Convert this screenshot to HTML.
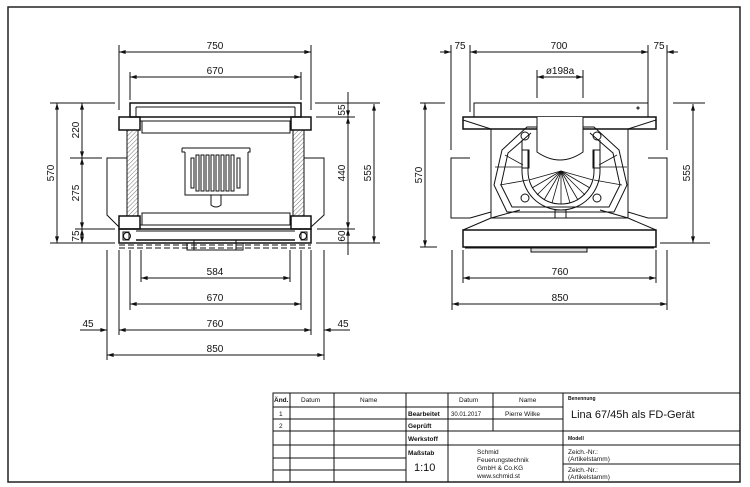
<!DOCTYPE html>
<html><head><meta charset="utf-8"><style>
html,body{margin:0;padding:0;background:#fff}
svg{display:block}
text{font-family:"Liberation Sans",sans-serif;fill:#111}
.d{font-size:10px;font-family:"DejaVu Sans Condensed","Liberation Sans",sans-serif}
</style></head><body>
<svg width="750" height="487" viewBox="0 0 750 487" xmlns="http://www.w3.org/2000/svg">
<defs>
<pattern id="h" width="3" height="3" patternUnits="userSpaceOnUse" patternTransform="rotate(45)"><line x1="0" y1="0" x2="0" y2="3" stroke="#555" stroke-width="0.8"/></pattern>
<marker id="a" viewBox="0 0 10 6" refX="10" refY="3" markerWidth="7" markerHeight="4" orient="auto-start-reverse"><path d="M0,0L10,3L0,6z" fill="#111"/></marker>
</defs>
<rect width="750" height="487" fill="#fff"/>
<!-- frame -->
<rect x="8" y="7" width="732" height="475" fill="none" stroke="#222" stroke-width="1.5"/>

<g stroke="#111" stroke-width="1" fill="none">
<!-- ===== LEFT VIEW ===== -->
<!-- dims top -->
<line x1="119" y1="45" x2="119" y2="110"/><line x1="311" y1="45" x2="311" y2="110"/>
<line x1="119" y1="52" x2="311" y2="52" marker-start="url(#a)" marker-end="url(#a)"/>
<line x1="130" y1="72" x2="130" y2="100"/><line x1="301" y1="72" x2="301" y2="100"/>
<line x1="130" y1="77" x2="301" y2="77" marker-start="url(#a)" marker-end="url(#a)"/>
<!-- top cover -->
<rect x="130" y="103" width="171" height="14" stroke-width="1.5"/>
<line x1="136" y1="107" x2="295" y2="107"/>
<line x1="136" y1="107" x2="136" y2="117"/><line x1="295" y1="107" x2="295" y2="117"/>
<!-- corner blocks -->
<rect x="119" y="117" width="21" height="13" stroke-width="1.5"/>
<rect x="291" y="117" width="20" height="13" stroke-width="1.5"/>
<rect x="140" y="117" width="151" height="4"/>
<rect x="142" y="121" width="148" height="12"/>
<!-- hatched walls -->
<rect x="127" y="130" width="11" height="86" fill="url(#h)"/>
<rect x="293" y="130" width="11" height="86" fill="url(#h)"/>
<!-- side panels -->
<path d="M127,158 H107 V215 L119,227"/>
<path d="M304,158 H324 V215 L311,227"/>
<!-- grate -->
<path d="M185,152 V195 H248 V152"/>
<path d="M182,148 H250 M182,148 v4 h3 M250,148 v4 h-2"/>
<g>
<rect x="191" y="158" width="3" height="30"/><rect x="196" y="155" width="3" height="36"/><rect x="201" y="155" width="3" height="36"/><rect x="206" y="155" width="3" height="36"/><rect x="211" y="155" width="3" height="36"/><rect x="216" y="155" width="3" height="36"/><rect x="221" y="155" width="3" height="36"/><rect x="226" y="155" width="3" height="36"/><rect x="231" y="155" width="3" height="36"/><rect x="237" y="158" width="3" height="30"/>
</g>
<path d="M211,195 V205 Q216,209 221,205 V195"/>
<!-- bottom bar -->
<rect x="142" y="213" width="148" height="12"/>
<rect x="140" y="225" width="151" height="4"/>
<rect x="119" y="216" width="21" height="13" stroke-width="1.5"/>
<rect x="291" y="216" width="20" height="13" stroke-width="1.5"/>
<!-- base -->
<rect x="119" y="229" width="192" height="14" stroke-width="1.5"/>
<line x1="136" y1="231" x2="295" y2="231"/>
<line x1="136" y1="240" x2="295" y2="240" stroke-width="1.5"/>
<circle cx="127" cy="236" r="3.5"/><circle cx="303" cy="236" r="3.5"/>
<rect x="123" y="232" width="6" height="8"/><rect x="301" y="232" width="6" height="8"/>
<line x1="119" y1="245" x2="311" y2="245" stroke-dasharray="6,3"/>
<line x1="119" y1="248" x2="311" y2="248" stroke-dasharray="6,3"/>
<rect x="187" y="243" width="56" height="7"/>
<line x1="194" y1="240" x2="194" y2="250"/><line x1="236" y1="240" x2="236" y2="250"/>
<!-- left dims -->
<line x1="50" y1="103" x2="115" y2="103"/><line x1="70" y1="158" x2="102" y2="158"/>
<line x1="75" y1="229" x2="115" y2="229"/><line x1="50" y1="243" x2="115" y2="243"/>
<line x1="57" y1="103" x2="57" y2="243" marker-start="url(#a)" marker-end="url(#a)"/>
<line x1="82" y1="103" x2="82" y2="158" marker-start="url(#a)" marker-end="url(#a)"/>
<line x1="82" y1="158" x2="82" y2="229" marker-start="url(#a)" marker-end="url(#a)"/>
<line x1="82" y1="229" x2="82" y2="243" marker-start="url(#a)" marker-end="url(#a)"/>
<!-- right dims -->
<line x1="315" y1="103" x2="380" y2="103"/><line x1="316" y1="117" x2="355" y2="117"/>
<line x1="317" y1="229" x2="355" y2="229"/><line x1="316" y1="243" x2="380" y2="243"/>
<line x1="348" y1="92" x2="348" y2="117" marker-end="url(#a)"/>
<line x1="348" y1="117" x2="348" y2="229" marker-start="url(#a)" marker-end="url(#a)"/>
<line x1="348" y1="229" x2="348" y2="255" marker-start="url(#a)"/>
<line x1="374" y1="104" x2="374" y2="243" marker-start="url(#a)" marker-end="url(#a)"/>
<!-- bottom dims -->
<line x1="107" y1="250" x2="107" y2="360"/><line x1="324" y1="250" x2="324" y2="360"/>
<line x1="119" y1="250" x2="119" y2="335"/><line x1="311" y1="250" x2="311" y2="335"/>
<line x1="130" y1="250" x2="130" y2="310"/><line x1="301" y1="250" x2="301" y2="310"/>
<line x1="141" y1="250" x2="141" y2="282"/><line x1="290" y1="250" x2="290" y2="282"/>
<line x1="141" y1="278" x2="290" y2="278" marker-start="url(#a)" marker-end="url(#a)"/>
<line x1="130" y1="304" x2="301" y2="304" marker-start="url(#a)" marker-end="url(#a)"/>
<line x1="119" y1="330" x2="311" y2="330" marker-start="url(#a)" marker-end="url(#a)"/>
<line x1="80" y1="330" x2="107" y2="330" marker-end="url(#a)"/>
<line x1="324" y1="330" x2="350" y2="330" marker-start="url(#a)"/>
<line x1="107" y1="355" x2="324" y2="355" marker-start="url(#a)" marker-end="url(#a)"/>

<!-- ===== RIGHT VIEW ===== -->
<line x1="451" y1="45" x2="451" y2="150"/><line x1="470" y1="45" x2="470" y2="112"/>
<line x1="648" y1="45" x2="648" y2="112"/><line x1="667" y1="45" x2="667" y2="150"/>
<line x1="470" y1="52" x2="648" y2="52" marker-start="url(#a)" marker-end="url(#a)"/>
<line x1="440" y1="52" x2="451" y2="52" marker-end="url(#a)"/>
<line x1="667" y1="52" x2="678" y2="52" marker-start="url(#a)"/>
<line x1="537" y1="70" x2="537" y2="98"/><line x1="583" y1="70" x2="583" y2="98"/>
<line x1="537" y1="77" x2="583" y2="77" marker-start="url(#a)" marker-end="url(#a)"/>
<!-- top plate -->
<rect x="474" y="103" width="174" height="14"/>
<circle cx="638" cy="108" r="1"/>
<path d="M463,117 H656 V129 H463 Z" stroke-width="1.5"/>
<path d="M463,120 L491,129 M656,120 L628,129"/>
<rect x="491" y="129" width="137" height="89"/>
<!-- side panels -->
<path d="M470,158 H451 V218 H470"/><path d="M648,158 H667 V218 H648"/>
<path d="M470,218 L491,212 M648,218 L628,212"/>
<path d="M491,218 L463,230 M628,218 L656,230"/>
<path d="M491,218 L520,210 M628,218 L600,210"/>
<!-- base -->
<rect x="463" y="230" width="193" height="17" stroke-width="1.5"/>
<line x1="465" y1="248" x2="654" y2="248"/>
<rect x="531" y="248" width="56" height="4" fill="#ddd"/>
<!-- stove body -->
<path d="M527,127 L502,150 L494,185 L507,212 L614,212 L627,185 L619,150 L594,127 Z"/>
<path d="M531,133 L508,153 L501,185 L512,207 L609,207 L620,185 L613,153 L590,133"/>
<path d="M522,171 A39,39 0 0 0 600,171"/>
<path d="M528,171 A33,33 0 0 0 594,171"/>
<path d="M522,171 V140 M600,171 V140 M528,171 V150 M594,171 V150"/>
<rect x="522" y="150" width="7" height="18"/><rect x="593" y="150" width="7" height="18"/>
<g stroke-width="0.8">
<line x1="561" y1="171" x2="561" y2="204"/><line x1="561" y1="171" x2="552" y2="203"/><line x1="561" y1="171" x2="570" y2="203"/>
<line x1="561" y1="171" x2="544" y2="200"/><line x1="561" y1="171" x2="578" y2="200"/>
<line x1="561" y1="171" x2="537" y2="195"/><line x1="561" y1="171" x2="585" y2="195"/>
<line x1="561" y1="171" x2="532" y2="188"/><line x1="561" y1="171" x2="590" y2="188"/>
<line x1="561" y1="171" x2="529" y2="180"/><line x1="561" y1="171" x2="593" y2="180"/>
<line x1="500" y1="185" x2="528" y2="180"/><line x1="622" y1="185" x2="594" y2="180"/>
<line x1="505" y1="155" x2="523" y2="165"/><line x1="617" y1="155" x2="599" y2="165"/>
<line x1="495" y1="167" x2="522" y2="167"/><line x1="627" y1="167" x2="600" y2="167"/>
</g>
<circle cx="525" cy="136" r="4"/><circle cx="597" cy="136" r="4"/>
<circle cx="525" cy="198" r="4"/><circle cx="597" cy="198" r="4"/>
<path d="M537,117 V152 Q560,168 583,152 V117" fill="#fff"/>
<rect x="555" y="210" width="11" height="8"/>
<!-- dims -->
<line x1="420" y1="103" x2="445" y2="103"/><line x1="420" y1="247" x2="437" y2="247"/>
<line x1="425" y1="103" x2="425" y2="247" marker-start="url(#a)" marker-end="url(#a)"/>
<line x1="673" y1="103" x2="705" y2="103"/><line x1="660" y1="243" x2="710" y2="243"/>
<line x1="693" y1="104" x2="693" y2="243" marker-start="url(#a)" marker-end="url(#a)"/>
<line x1="452" y1="250" x2="452" y2="310"/><line x1="667" y1="250" x2="667" y2="310"/>
<line x1="463" y1="250" x2="463" y2="283"/><line x1="656" y1="250" x2="656" y2="283"/>
<line x1="463" y1="278" x2="656" y2="278" marker-start="url(#a)" marker-end="url(#a)"/>
<line x1="452" y1="304" x2="667" y2="304" marker-start="url(#a)" marker-end="url(#a)"/>

<!-- ===== TITLE BLOCK ===== -->
<path d="M273,482 V393 H740"/>
<line x1="273" y1="407" x2="563" y2="407"/>
<line x1="273" y1="419" x2="563" y2="419"/>
<line x1="273" y1="431" x2="740" y2="431"/>
<line x1="273" y1="445" x2="740" y2="445"/>
<line x1="273" y1="458" x2="406" y2="458"/>
<line x1="273" y1="470" x2="406" y2="470"/>
<line x1="563" y1="464" x2="740" y2="464"/>
<line x1="290" y1="393" x2="290" y2="482"/>
<line x1="334" y1="393" x2="334" y2="482"/>
<line x1="406" y1="393" x2="406" y2="482"/>
<line x1="448" y1="393" x2="448" y2="482"/>
<line x1="493" y1="393" x2="493" y2="431"/>
<line x1="563" y1="393" x2="563" y2="482"/>
</g>

<!-- dimension text -->
<g class="d" text-anchor="middle">
<text x="215" y="49">750</text>
<text x="215" y="74">670</text>
<text x="215" y="275">584</text>
<text x="215" y="301">670</text>
<text x="215" y="327">760</text>
<text x="88" y="327">45</text>
<text x="343" y="327">45</text>
<text x="215" y="352">850</text>
<text transform="translate(54,173) rotate(-90)">570</text>
<text transform="translate(79,130) rotate(-90)">220</text>
<text transform="translate(79,193) rotate(-90)">275</text>
<text transform="translate(79,236) rotate(-90)">75</text>
<text transform="translate(345,110) rotate(-90)">55</text>
<text transform="translate(345,173) rotate(-90)">440</text>
<text transform="translate(345,236) rotate(-90)">60</text>
<text transform="translate(371,173) rotate(-90)">555</text>
<text x="460" y="49">75</text>
<text x="559" y="49">700</text>
<text x="659" y="49">75</text>
<text x="560" y="74">ø198a</text>
<text transform="translate(422,175) rotate(-90)">570</text>
<text transform="translate(690,173) rotate(-90)">555</text>
<text x="560" y="275">760</text>
<text x="560" y="301">850</text>
</g>

<!-- title text -->
<g font-size="6.5" font-weight="bold">
<text x="274" y="402">Änd.</text>
<text x="301" y="402" font-weight="normal">Datum</text>
<text x="360" y="402" font-weight="normal">Name</text>
<text x="459" y="402" font-weight="normal">Datum</text>
<text x="519" y="402" font-weight="normal">Name</text>
<text x="568" y="400" font-size="5">Benennung</text>
<text x="279" y="416" font-weight="normal">1</text>
<text x="279" y="428" font-weight="normal">2</text>
<text x="408" y="416">Bearbeitet</text>
<text x="408" y="428">Geprüft</text>
<text x="408" y="441">Werkstoff</text>
<text x="408" y="455">Maßstab</text>
<text x="451" y="416" font-size="6" font-weight="normal">30.01.2017</text>
<text x="505" y="416" font-weight="normal">Pierre Wilke</text>
<text x="568" y="440" font-size="5">Modell</text>
<text x="477" y="454" font-weight="normal">Schmid</text>
<text x="477" y="462" font-weight="normal">Feuerungstechnik</text>
<text x="477" y="470" font-weight="normal">GmbH &amp; Co.KG</text>
<text x="477" y="478" font-weight="normal">www.schmid.st</text>
<text x="568" y="454" font-weight="normal">Zeich.-Nr.:</text>
<text x="568" y="461" font-weight="normal">(Artikelstamm)</text>
<text x="568" y="472" font-weight="normal">Zeich.-Nr.:</text>
<text x="568" y="479" font-weight="normal">(Artikelstamm)</text>
</g>
<text x="414" y="471" font-size="11">1:10</text>
<text x="571" y="418" font-size="11">Lina 67/45h als FD-Gerät</text>
</svg>
</body></html>
